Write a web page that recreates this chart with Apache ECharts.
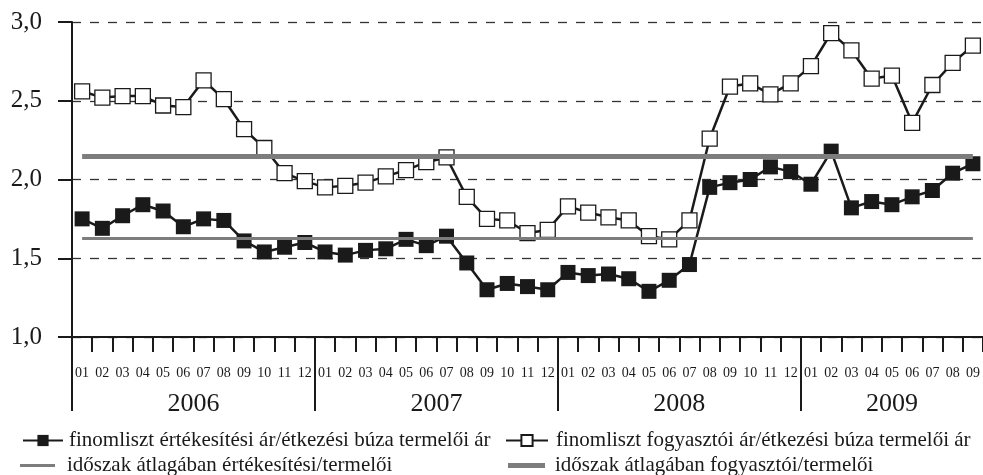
<!DOCTYPE html>
<html>
<head>
<meta charset="utf-8">
<script src="https://cdn.jsdelivr.net/npm/echarts@6/dist/echarts.min.js"></script>
<style>
  html, body { margin: 0; padding: 0; background: #fff; }
  #chart { width: 983px; height: 475px; }
</style>
</head>
<body>
<div id="chart"></div>
<script>
// hónapok 2006-01 .. 2009-09
var months = [
    '2006-01', '2006-02', '2006-03', '2006-04', '2006-05', '2006-06', '2006-07', '2006-08', '2006-09', '2006-10', '2006-11', '2006-12',
    '2007-01', '2007-02', '2007-03', '2007-04', '2007-05', '2007-06', '2007-07', '2007-08', '2007-09', '2007-10', '2007-11', '2007-12',
    '2008-01', '2008-02', '2008-03', '2008-04', '2008-05', '2008-06', '2008-07', '2008-08', '2008-09', '2008-10', '2008-11', '2008-12',
    '2009-01', '2009-02', '2009-03', '2009-04', '2009-05', '2009-06', '2009-07', '2009-08', '2009-09'
];
var years = ['2006', '2007', '2008', '2009'];
var monthsPerYear = [12, 12, 12, 9];

var salesRatio = [
    1.75, 1.69, 1.77, 1.84, 1.80, 1.70, 1.75, 1.74, 1.61, 1.54, 1.57, 1.60,
    1.54, 1.52, 1.55, 1.56, 1.62, 1.58, 1.64, 1.47, 1.30, 1.34, 1.32, 1.30,
    1.41, 1.39, 1.40, 1.37, 1.29, 1.36, 1.46, 1.95, 1.98, 2.00, 2.08, 2.05,
    1.97, 2.18, 1.82, 1.86, 1.84, 1.89, 1.93, 2.04, 2.10
];
var consumerRatio = [
    2.56, 2.52, 2.53, 2.53, 2.47, 2.46, 2.63, 2.51, 2.32, 2.20, 2.04, 1.99,
    1.95, 1.96, 1.98, 2.02, 2.06, 2.11, 2.14, 1.89, 1.75, 1.74, 1.66, 1.68,
    1.83, 1.79, 1.76, 1.74, 1.64, 1.62, 1.74, 2.26, 2.59, 2.61, 2.54, 2.61,
    2.72, 2.93, 2.82, 2.64, 2.66, 2.36, 2.60, 2.74, 2.85
];
var avgSales = 1.63;
var avgConsumer = 2.15;

var yTicks = [1.0, 1.5, 2.0, 2.5, 3.0];

var names = {
    sales: 'finomliszt értékesítési ár/étkezési búza termelői ár',
    consumer: 'finomliszt fogyasztói ár/étkezési búza termelői ár',
    avgSales: 'időszak átlagában értékesítési/termelői',
    avgConsumer: 'időszak átlagában fogyasztói/termelői'
};

// év határok és év-feliratok helye (hónap-indexben)
var yearBounds = [];
var yearMids = [];
var acc = 0;
monthsPerYear.forEach(function (n) {
    yearBounds.push(acc);
    yearMids.push(acc + n / 2);
    acc += n;
});

var FONT = '"Liberation Serif", "Times New Roman", serif';
var INK = '#1a1a1a';
var GRAY = '#7d7d7d';

function avgLine(name, value, width) {
    return {
        name: name,
        type: 'line',
        data: [],
        symbol: 'none',
        z: 1,
        itemStyle: { color: GRAY },
        lineStyle: { color: GRAY, width: width },
        markLine: {
            silent: true,
            symbol: 'none',
            label: { show: false },
            lineStyle: { color: GRAY, width: width, type: 'solid' },
            data: [[
                { coord: [months[0], value] },
                { coord: [months[months.length - 1], value] }
            ]]
        }
    };
}

function legendItem(name, left, top, w, h, icon, pad) {
    var item = { name: name };
    if (icon) item.icon = icon;
    return {
        left: left,
        top: top,
        itemWidth: w,
        itemHeight: h,
        padding: 0,
        textStyle: { fontFamily: FONT, fontSize: 21, color: INK, padding: [0, 0, 0, pad] },
        data: [item]
    };
}

var chart = echarts.init(document.getElementById('chart'));

var option = {
    backgroundColor: '#fff',
    animation: false,
    textStyle: { fontFamily: FONT, color: INK },
    grid: { left: 72, top: 22, width: 918, height: 315 },
    legend: [
        legendItem(names.sales, 22, 430, 40, 14, null, 1),
        legendItem(names.avgSales, 20, 455, 35, 3, 'rect', 7),
        legendItem(names.consumer, 505, 430, 42, 14, null, 3),
        legendItem(names.avgConsumer, 508, 455, 37, 5, 'rect', 5)
    ],
    xAxis: [
        {
            type: 'category',
            data: months,
            boundaryGap: true,
            axisLine: { lineStyle: { color: INK, width: 2 } },
            axisTick: { show: true, interval: 0, length: 15, lineStyle: { color: INK, width: 2 } },
            axisLabel: {
                interval: 0,
                margin: 29,
                fontFamily: FONT,
                fontSize: 14,
                color: INK,
                formatter: function (v) { return v.slice(5); }
            },
            splitLine: { show: false }
        },
        {
            type: 'value',
            position: 'bottom',
            min: 0,
            max: months.length,
            axisLine: { show: false },
            axisTick: {
                show: true,
                length: 74,
                customValues: yearBounds,
                lineStyle: { color: INK, width: 2 }
            },
            axisLabel: {
                margin: 54,
                fontFamily: FONT,
                fontSize: 26,
                color: INK,
                customValues: yearMids,
                formatter: function (v) {
                    var i = yearMids.indexOf(v);
                    return i >= 0 ? years[i] : '';
                }
            },
            splitLine: { show: false }
        }
    ],
    yAxis: {
        type: 'value',
        min: yTicks[0],
        max: yTicks[yTicks.length - 1],
        interval: 0.5,
        axisLine: { show: true, lineStyle: { color: INK, width: 2 } },
        axisTick: { show: true, length: 14, lineStyle: { color: INK, width: 2 } },
        axisLabel: {
            margin: 30,
            fontFamily: FONT,
            fontSize: 25,
            color: INK,
            formatter: function (v) { return v.toFixed(1).replace('.', ','); }
        },
        splitLine: { lineStyle: { color: '#333', width: 1.3, type: [9, 9] } }
    },
    series: [
        avgLine(names.avgSales, avgSales, 3),
        avgLine(names.avgConsumer, avgConsumer, 5),
        {
            name: names.sales,
            type: 'line',
            data: salesRatio,
            z: 3,
            symbol: 'rect',
            symbolSize: 15,
            showAllSymbol: true,
            itemStyle: { color: INK },
            lineStyle: { color: INK, width: 2.5 }
        },
        {
            name: names.consumer,
            type: 'line',
            data: consumerRatio,
            z: 4,
            symbol: 'rect',
            symbolSize: 15,
            showAllSymbol: true,
            itemStyle: { color: '#fff', borderColor: INK, borderWidth: 1.3 },
            lineStyle: { color: INK, width: 2.5 }
        }
    ]
};

chart.setOption(option);
</script>
</body>
</html>
